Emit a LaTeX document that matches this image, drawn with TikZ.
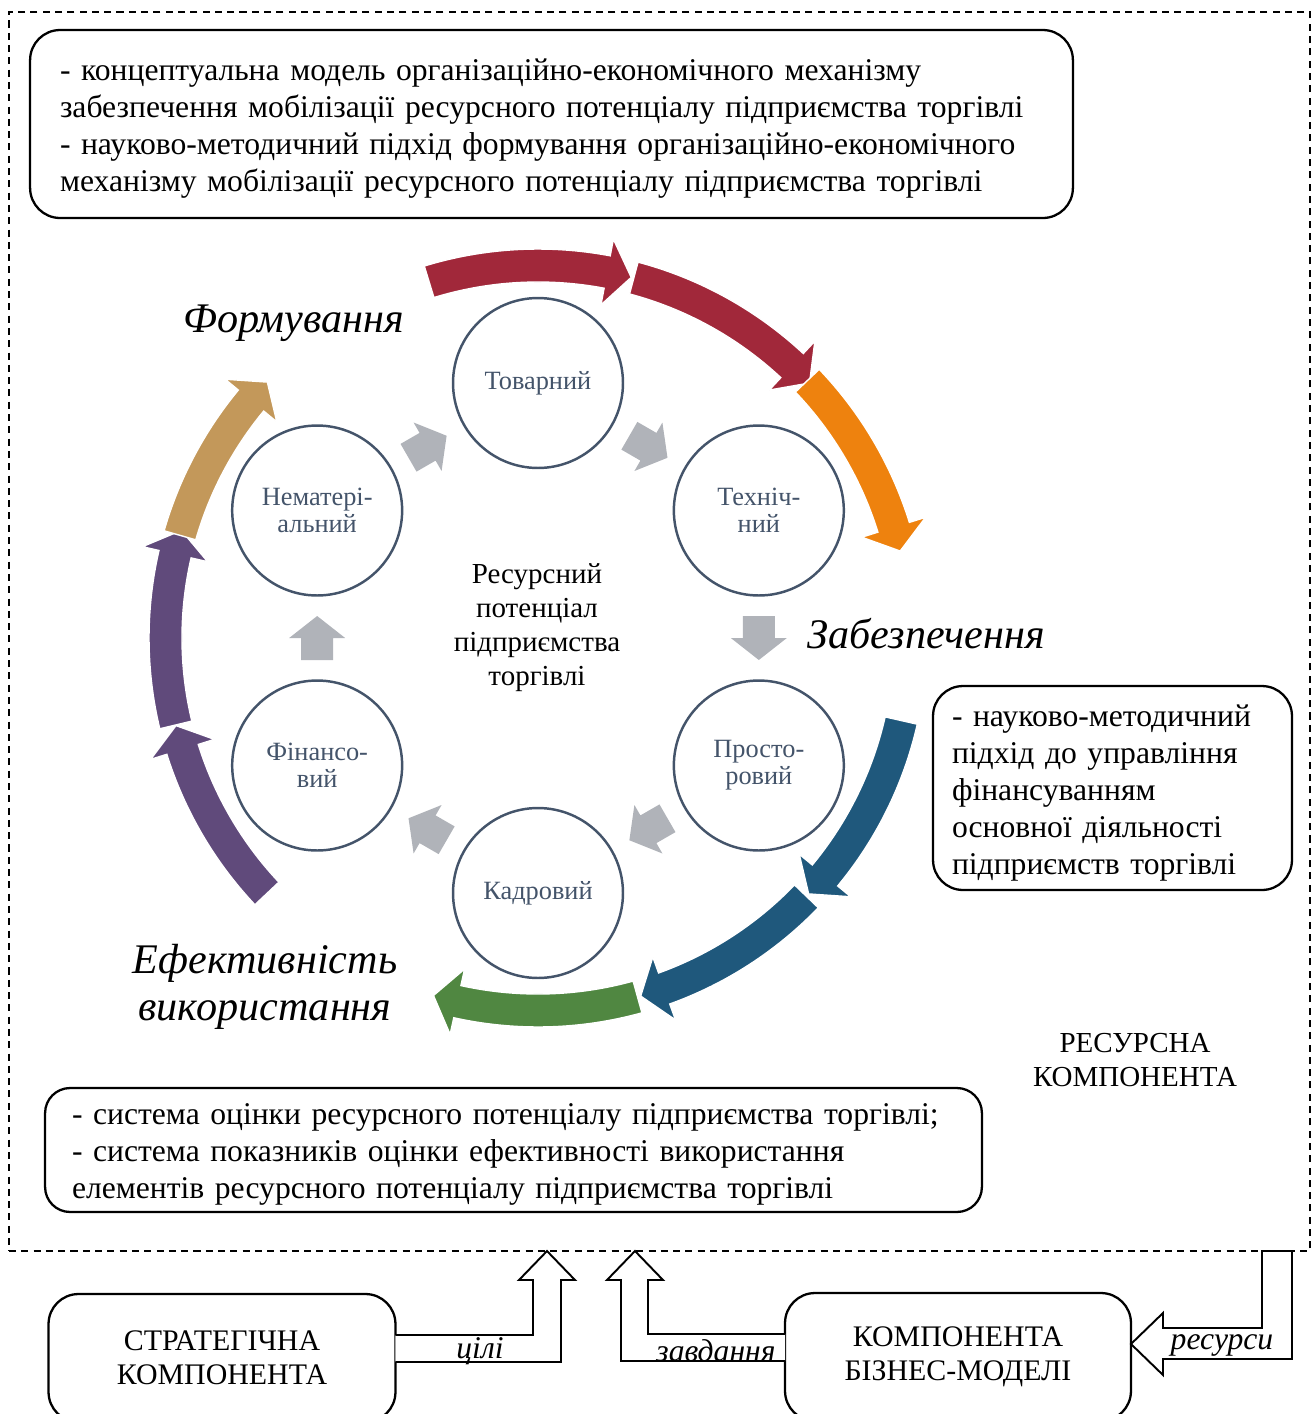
\documentclass[tikz,border=0pt]{standalone}
\usepackage{fontspec}
\setmainfont{Liberation Serif}
\usepackage{tikz}
\usetikzlibrary{positioning}
\usetikzlibrary{calc}
\usetikzlibrary{fit}
\definecolor{RPSlate}{RGB}{68,84,106}
\definecolor{RPGrey}{RGB}{176,179,185}
\definecolor{RPRed}{RGB}{161,40,58}
\definecolor{RPOrange}{RGB}{238,130,14}
\definecolor{RPBlue}{RGB}{31,88,124}
\definecolor{RPGreen}{RGB}{80,135,65}
\definecolor{RPPurple}{RGB}{96,74,123}
\definecolor{RPGold}{RGB}{195,152,90}
\newcommand{\ringarrow}[3]{\filldraw[ringband,fill=#1,shift={(hub)}] (#2:389) arc[start angle=#2,end angle=#3,radius=389] -- (#3:406) -- ({#3-3.8}:372.5) -- (#3:339) -- (#3:356) arc[start angle=#3,end angle=#2,radius=356] -- cycle;}
\tikzset{flowarr/.pic={\fill[RPGrey] (-22,-16) -- (0,-16) -- (0,-28) -- (22,0) -- (0,28) -- (0,16) -- (-22,16) -- cycle;}}

\begin{document}
\begin{tikzpicture}[
x=0.02cm,
y=0.02cm,
every node/.style={text=black,outer sep=0pt},
notebox/.style={draw=black,line width=1.3pt,rounded corners=0.6cm,inner sep=0pt},
notetext/.style={anchor=base west,align=left,inner sep=0pt,font=\fontsize{18}{21.1}\selectfont},
res/.style={circle,draw=RPSlate,line width=1.4pt,fill=white,minimum size=3.4cm,inner sep=0pt,align=center,text=RPSlate,font=\fontsize{15}{15.5}\selectfont},
core/.style={align=center,font=\fontsize{16.5}{19.3}\selectfont},
stage/.style={align=center,font=\fontsize{24}{27}\selectfont\itshape},
comp/.style={draw=black,line width=1.3pt,rounded corners=0.6cm,align=center,minimum width=6.94cm,minimum height=2.56cm,font=\fontsize{17}{19.3}\selectfont},
flowlabel/.style={font=\fontsize{18}{19}\selectfont\itshape},
hollow/.style={draw=black,fill=white,line width=1.1pt,line join=miter},
frame/.style={draw=black,line width=1.1pt,dash pattern=on 4pt off 3pt,inner sep=0pt},
ringband/.style={draw=white,line width=0.8pt}
]

\path[use as bounding box] (0,0) rectangle (1315,-1414);
\clip (0,0) rectangle (1315,-1414);

\coordinate (fNW) at (9,-12);
\coordinate (fSE) at (1310,-1251);
\node[frame,fit=(fNW)(fSE)] (frame) {};

\node[notebox,minimum width=20.86cm,minimum height=3.76cm] (topnote) at (551.5,-124) {};
\node[notetext,text width=19.9cm] (topnotetext) at (60,-80) {- концептуальна модель організаційно-економічного механізму\\забезпечення мобілізації ресурсного потенціалу підприємства торгівлі\\- науково-методичний підхід формування організаційно-економічного\\механізму мобілізації ресурсного потенціалу підприємства торгівлі};
\node[notebox,minimum width=7.18cm,minimum height=4.08cm] (finnote) at (1112.5,-788) {};
\node[notetext,text width=6.6cm] (finnotetext) at (952,-726) {- науково-методичний\\підхід до управління\\фінансуванням\\основної діяльності\\підприємств торгівлі};
\node[notebox,minimum width=18.74cm,minimum height=2.48cm,rounded corners=0.5cm] (evalnote) at (513.5,-1150) {};
\node[notetext,text width=18cm] (evalnotetext) at (72,-1124) {- система оцінки ресурсного потенціалу підприємства торгівлі;\\- система показників оцінки ефективності використання\\елементів ресурсного потенціалу підприємства торгівлі};

\node[core] (rescomp) at (1135,-1060) {РЕСУРСНА\\КОМПОНЕНТА};

\coordinate (hub) at (538,-638);

\ringarrow{RPRed}{107}{79.3}
\ringarrow{RPRed}{75.1}{47}
\ringarrow{RPOrange}{43.7}{17.3}
\ringarrow{RPBlue}{-12.8}{-39.6}
\ringarrow{RPBlue}{-43.9}{-70.2}
\ringarrow{RPGreen}{-74.5}{-102.5}
\ringarrow{RPPurple}{223.3}{197.4}
\ringarrow{RPPurple}{193.5}{167}
\ringarrow{RPGold}{164}{140.4}

\node[res] (tov) at ($(hub)+(90:255)$) {Товарний};
\node[res] (tech) at ($(hub)+(30:255)$) {Техніч-\\ний};
\node[res] (prost) at ($(hub)+(-30:255)$) {Просто-\\ровий};
\node[res] (kadr) at ($(hub)+(-90:255)$) {Кадровий};
\node[res] (fin) at ($(hub)+(210:255)$) {Фінансо-\\вий};
\node[res] (nemat) at ($(hub)+(150:255)$) {Нематері-\\альний};

\node[core] (potential) at (537,-628) {Ресурсний\\потенціал\\підприємства\\торгівлі};

\pic[rotate=-30] at ($(tov)!0.5!(tech)$) {flowarr};
\pic[rotate=-90] at ($(tech)!0.5!(prost)$) {flowarr};
\pic[rotate=210] at ($(prost)!0.5!(kadr)$) {flowarr};
\pic[rotate=150] at ($(kadr)!0.5!(fin)$) {flowarr};
\pic[rotate=90] at ($(fin)!0.5!(nemat)$) {flowarr};
\pic[rotate=30] at ($(nemat)!0.5!(tov)$) {flowarr};

\node[stage] (form) at (294,-323) {Формування};
\node[stage] (supply) at (926,-634) {Забезпечення};
\node[stage] (effect) at (265,-987) {Ефективність\\використання};

\node[comp] (strat) at (222,-1358) {СТРАТЕГІЧНА\\КОМПОНЕНТА};
\node[comp,minimum width=6.92cm] (bmodel) at (958,-1357) {КОМПОНЕНТА\\БІЗНЕС-МОДЕЛІ};

\draw[hollow] (strat.east |- 0,-1335) -- (533,-1335) -- (533,-1280) -- (519,-1280) -- (frame.south -| 547,0) -- (575,-1280) -- (561,-1280) -- (561,-1362) -- (strat.east |- 0,-1362);
\draw[hollow] (bmodel.west |- 0,-1334) -- (648,-1334) -- (648,-1280) -- (663,-1280) -- (frame.south -| 635,0) -- (607,-1280) -- (621,-1280) -- (621,-1361) -- (bmodel.west |- 0,-1361);
\draw[hollow] (frame.south -| 1262,0) -- (1262,-1328) -- (1163,-1328) -- (1163,-1313) -- (bmodel.east |- 0,-1344) -- (1163,-1375) -- (1163,-1359) -- (1292,-1359) -- (frame.south -| 1292,0) -- cycle;

\node[flowlabel] (goals) at (480,-1351) {цілі};
\node[flowlabel] (tasks) at (716,-1351) {завдання};
\node[flowlabel] (resources) at (1222,-1345) {ресурси};

\end{tikzpicture}
\end{document}
